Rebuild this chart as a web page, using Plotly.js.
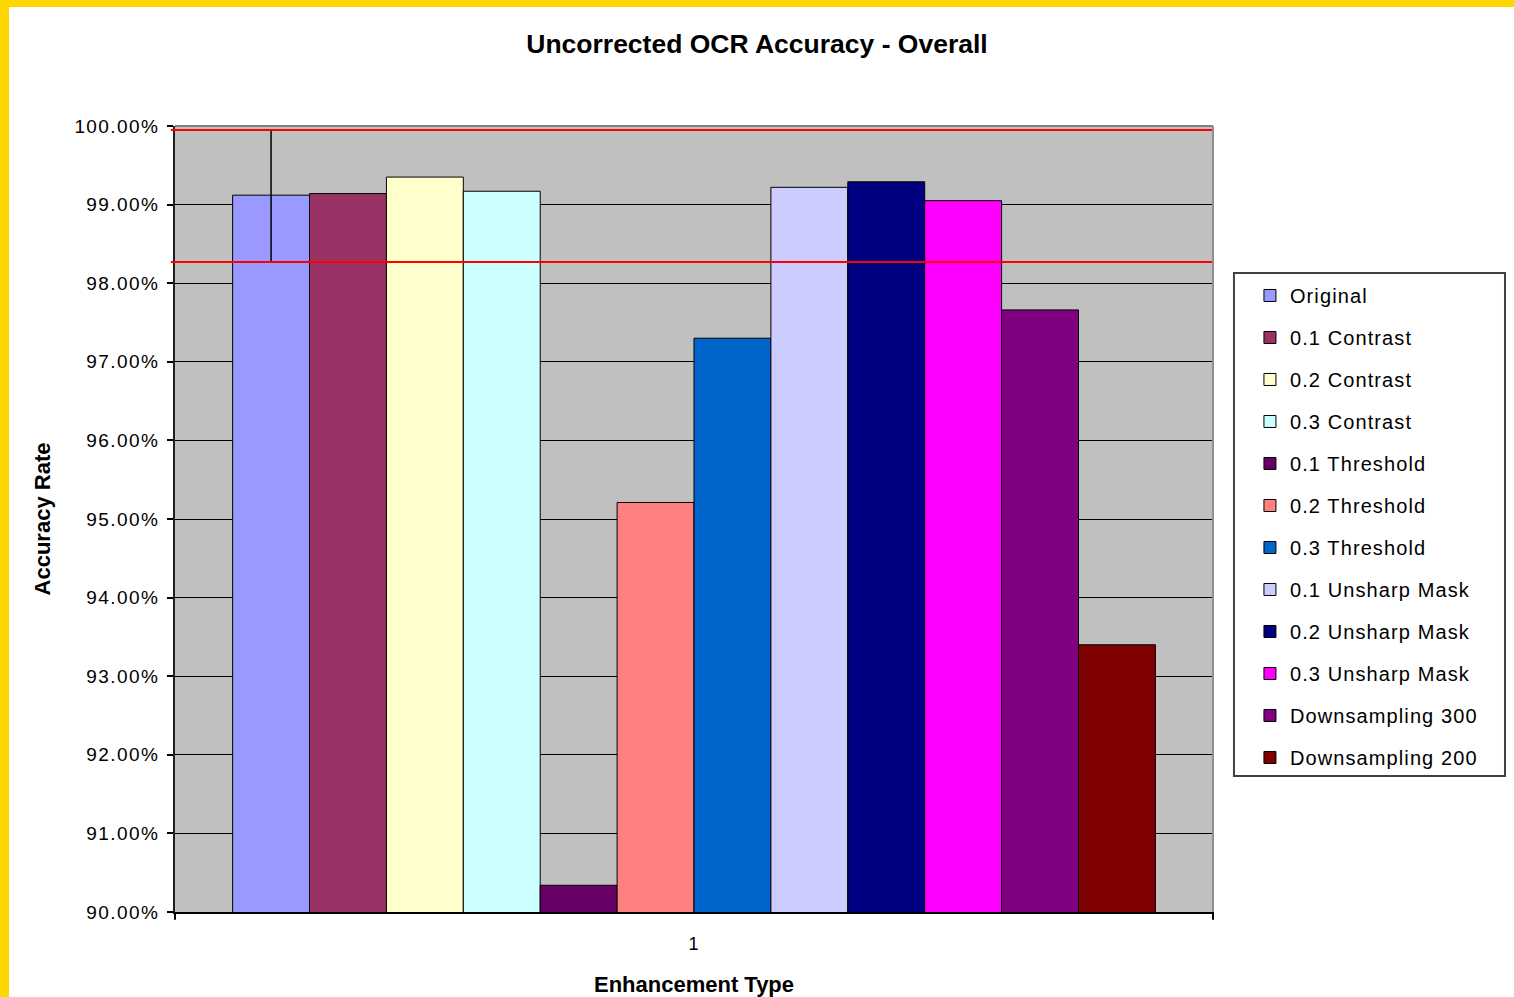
<!DOCTYPE html>
<html>
<head>
<meta charset="utf-8">
<script src="https://cdn.plot.ly/plotly-3.0.1.min.js"></script>
<style>
  html, body { margin: 0; padding: 0; background: #ffffff; }
  #chart { width: 1514px; height: 997px; }
  .ystrip { position: absolute; background: #FFD700; z-index: 10; }
  .ytick text { letter-spacing: 1.4px; }
  .xtick text { letter-spacing: 1px; }
  .legendtext { letter-spacing: 1.1px; }
</style>
</head>
<body>
<div id="chart"></div>
<div class="ystrip" style="left:0;top:0;width:1514px;height:7px;"></div>
<div class="ystrip" style="left:0;top:0;width:9px;height:997px;"></div>
<script>
// ---- data ----
const category = ['1'];
const seriesNames = [
  'Original', '0.1 Contrast', '0.2 Contrast', '0.3 Contrast',
  '0.1 Threshold', '0.2 Threshold', '0.3 Threshold',
  '0.1 Unsharp Mask', '0.2 Unsharp Mask', '0.3 Unsharp Mask',
  'Downsampling 300', 'Downsampling 200'
];
const accuracy = [99.12, 99.14, 99.35, 99.17, 90.34, 95.21, 97.30, 99.22, 99.29, 99.05, 97.66, 93.40];
const seriesColors = [
  '#9999FF', '#993366', '#FFFFCC', '#CCFFFF', '#660066', '#FF8080',
  '#0066CC', '#CCCCFF', '#000080', '#FF00FF', '#800080', '#800000'
];
// error bar on "Original" (upper / lower extents)
const originalErrPlus = [0.83];
const originalErrMinus = [0.85];
// red reference lines (%)
const refLines = [99.95, 98.27];
const yTickVals = [90, 91, 92, 93, 94, 95, 96, 97, 98, 99, 100];

const FONT = '"Liberation Sans", Arial, Helvetica, sans-serif';

const traces = seriesNames.map((name, i) => {
  const t = {
    type: 'bar',
    name: name,
    x: category,
    y: [accuracy[i]],
    legendgroup: 'g' + i,
    marker: { color: seriesColors[i], line: { color: '#000000', width: 1 } },
    hoverinfo: 'name+y'
  };
  if (i === 0) {
    t.error_y = {
      type: 'data', symmetric: false,
      array: originalErrPlus, arrayminus: originalErrMinus,
      color: '#000000', thickness: 1.5, width: 0
    };
  }
  return t;
});

const shapes = refLines.map(v => ({
  type: 'line', xref: 'paper', yref: 'y', x0: -0.004, x1: 1, y0: v, y1: v,
  line: { color: '#FF0000', width: 2 }, layer: 'above'
}));
// plot area border (top/right)
shapes.push({
  type: 'line', xref: 'paper', yref: 'paper', x0: 0, x1: 1, y0: 1, y1: 1,
  line: { color: '#808080', width: 2 }, layer: 'above'
});
shapes.push({
  type: 'line', xref: 'paper', yref: 'paper', x0: 1, x1: 1, y0: 0, y1: 1,
  line: { color: '#909090', width: 2 }, layer: 'above'
});
// category boundary ticks on x axis
[0, 1].forEach(px => shapes.push({
  type: 'line', xref: 'paper', yref: 'paper', x0: px, x1: px, y0: 0, y1: -0.01,
  line: { color: '#000000', width: 2 }
}));
// legend frame
shapes.push({
  type: 'rect', xref: 'paper', yref: 'paper',
  x0: 1.0202, x1: 1.2813, y0: 0.1730, y1: 0.8130,
  line: { color: '#404040', width: 2 }, fillcolor: '#FFFFFF', layer: 'below'
});

const layout = {
  width: 1514, height: 997,
  margin: { l: 175, r: 301, t: 126, b: 85, pad: 0 },
  paper_bgcolor: '#FFFFFF',
  plot_bgcolor: '#C0C0C0',
  font: { family: FONT, color: '#000000', size: 18 },
  title: {
    text: '<b>Uncorrected OCR Accuracy - Overall</b>',
    font: { family: FONT, size: 26.5, color: '#000000' },
    x: 0.5, xref: 'container', xanchor: 'center',
    y: 1 - 44 / 997, yref: 'container', yanchor: 'middle'
  },
  barmode: 'group',
  bargap: 0.111,
  bargroupgap: 0,
  showlegend: true,
  legend: {
    x: 1.0356, xanchor: 'left', y: 0.8092, yanchor: 'top',
    bgcolor: 'rgba(0,0,0,0)', borderwidth: 0,
    font: { family: FONT, size: 20, color: '#000000' },
    traceorder: 'grouped', tracegroupgap: 13,
    itemclick: false
  },
  xaxis: {
    type: 'category',
    showline: true, linecolor: '#000000', linewidth: 2,
    ticks: '', showgrid: false, zeroline: false,
    ticklabelstandoff: 14,
    tickfont: { family: FONT, size: 18, color: '#000000' },
    automargin: false,
    title: {
      text: '<b>Enhancement Type</b>',
      font: { family: FONT, size: 22, color: '#000000' },
      standoff: 26
    }
  },
  yaxis: {
    range: [90, 100],
    tickvals: yTickVals,
    ticktext: yTickVals.map(v => v.toFixed(2) + '%'),
    ticks: 'outside', ticklen: 6, tickwidth: 2, tickcolor: '#000000',
    ticklabelstandoff: 4,
    showline: true, linecolor: '#202020', linewidth: 2,
    showgrid: true, gridcolor: '#000000', gridwidth: 1,
    zeroline: false,
    tickfont: { family: FONT, size: 19, color: '#000000' },
    automargin: false,
    title: {
      text: '<b>Accuracy Rate</b>',
      font: { family: FONT, size: 22, color: '#000000' },
      standoff: 18
    }
  },
  shapes: shapes
};

Plotly.newPlot('chart', traces, layout, { displayModeBar: false });
</script>
</body>
</html>
